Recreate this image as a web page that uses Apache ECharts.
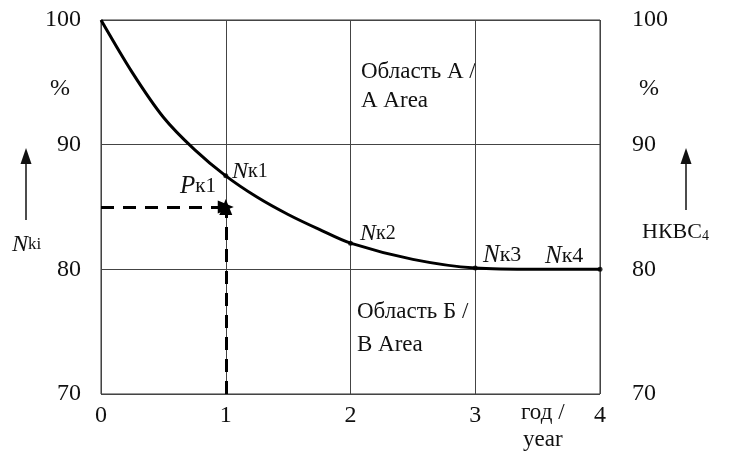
<!DOCTYPE html>
<html>
<head>
<meta charset="utf-8">
<script src="https://cdn.jsdelivr.net/npm/echarts@6/dist/echarts.min.js"></script>
<style>
html, body { margin: 0; padding: 0; background: #fff; }
#chart { width: 732px; height: 452px; }
</style>
</head>
<body>
<div id="chart"></div>
<script>
// curve N_ki (%) by year
const years = [0, 0.25, 0.5, 0.75, 1, 1.25, 1.5, 1.75, 2, 2.5, 3, 3.5, 4];
const shares = [100, 95.8, 92.2, 89.6, 87.5, 85.8, 84.4, 83.2, 82.1, 80.8, 80.1, 80, 80];
// marked points N_k1 .. N_k4
const nkYears = [1, 2, 3, 4];
const nkValues = [87.5, 82.1, 80.1, 80];
// P_k1 point
const pkYear = 1;
const pkValue = 85;
const xTicks = [0, 1, 2, 3, 4];
const yTicks = [70, 80, 90, 100];

const serif = '"Liberation Serif", "DejaVu Serif", serif';
const chart = echarts.init(document.getElementById('chart'));

const nLabel = (t, x, y, big) => ({
    type: 'text',
    style: {
        text: '{i|N}{s|' + t + '}',
        x: x, y: y,
        textVerticalAlign: 'middle',
        rich: {
            i: { fontFamily: serif, fontStyle: 'italic', fontSize: big ? 25 : 24, fill: '#111' },
            s: { fontFamily: serif, fontSize: big ? 22 : 20, fill: '#111' }
        }
    }
});
const txt = (t, x, y, size, align) => ({
    type: 'text',
    style: { text: t, x: x, y: y, font: size + 'px ' + serif, fill: '#111', textAlign: align || 'left', textVerticalAlign: 'middle' }
});

const option = {
    animation: false,
    backgroundColor: '#fff',
    grid: { left: 101, right: 132, top: 20, bottom: 58, show: true, borderColor: '#333', borderWidth: 1 },
    xAxis: {
        type: 'value', min: xTicks[0], max: xTicks[xTicks.length - 1], interval: 1,
        axisLine: { show: false }, axisTick: { show: false },
        splitLine: { show: true, lineStyle: { color: '#444', width: 1 } },
        axisLabel: { margin: 10, color: '#111', fontFamily: serif, fontSize: 24 }
    },
    yAxis: [{
        type: 'value', min: yTicks[0], max: yTicks[yTicks.length - 1], interval: 10,
        axisLine: { show: false }, axisTick: { show: false },
        splitLine: { show: true, lineStyle: { color: '#444', width: 1 } },
        axisLabel: { margin: 20, color: '#111', fontFamily: serif, fontSize: 24 }
    }, {
        type: 'value', position: 'right', min: yTicks[0], max: yTicks[yTicks.length - 1], interval: 10,
        axisLine: { show: false }, axisTick: { show: false }, splitLine: { show: false },
        axisLabel: { margin: 32, color: '#111', fontFamily: serif, fontSize: 24 }
    }],
    series: [{
        type: 'line',
        data: years.map((x, i) => [x, shares[i]]),
        smooth: 0.3,
        showSymbol: false,
        lineStyle: { color: '#000', width: 3 },
        markLine: {
            silent: true,
            symbol: ['none', 'triangle'],
            symbolSize: [13, 16],
            label: { show: false },
            lineStyle: { color: '#000', width: 3, type: [13, 9] },
            data: [
                [{ coord: [0, pkValue] }, { coord: [pkYear, pkValue] }],
                [{ coord: [pkYear, yTicks[0]] }, { coord: [pkYear, pkValue] }]
            ]
        }
    }, {
        type: 'scatter',
        data: nkYears.map((x, i) => [x, nkValues[i]]),
        symbolSize: 5,
        itemStyle: { color: '#000' }
    }],
    graphic: [
        txt('%', 60, 89, 24, 'center'),
        txt('%', 649, 89, 24, 'center'),
        txt('Область А /', 361, 72, 23),
        txt('A Area', 361, 101, 23),
        txt('Область Б /', 357, 312, 23),
        txt('B Area', 357, 345, 23),
        txt('год /', 521, 413, 23),
        txt('year', 523, 440, 23),
        nLabel('к1', 232, 172, false),
        nLabel('к2', 360, 234, false),
        nLabel('к3', 483, 255, true),
        nLabel('к4', 545, 256, true),
        { type: 'text', style: { text: '{i|P}{s|к1}', x: 180, y: 186, textVerticalAlign: 'middle',
            rich: { i: { fontFamily: serif, fontStyle: 'italic', fontSize: 25, fill: '#111' }, s: { fontFamily: serif, fontSize: 21, fill: '#111' } } } },
        { type: 'text', style: { text: '{i|N}{s|ki}', x: 12, y: 245, textVerticalAlign: 'middle',
            rich: { i: { fontFamily: serif, fontStyle: 'italic', fontSize: 24, fill: '#111' }, s: { fontFamily: serif, fontSize: 17, fill: '#111' } } } },
        { type: 'text', style: { text: '{a|НКВС}{b|4}', x: 642, y: 232, textVerticalAlign: 'middle',
            rich: { a: { fontFamily: serif, fontSize: 22, fill: '#111' }, b: { fontFamily: serif, fontSize: 14, fill: '#111', padding: [8, 0, 0, 0] } } } },
        { type: 'line', shape: { x1: 26, y1: 220, x2: 26, y2: 160 }, style: { stroke: '#111', lineWidth: 1.5 } },
        { type: 'polygon', shape: { points: [[26, 148], [20.5, 164], [31.5, 164]] }, style: { fill: '#111' } },
        { type: 'line', shape: { x1: 686, y1: 210, x2: 686, y2: 160 }, style: { stroke: '#111', lineWidth: 1.5 } },
        { type: 'polygon', shape: { points: [[686, 148], [680.5, 164], [691.5, 164]] }, style: { fill: '#111' } }
    ]
};
chart.setOption(option);
</script>
</body>
</html>
